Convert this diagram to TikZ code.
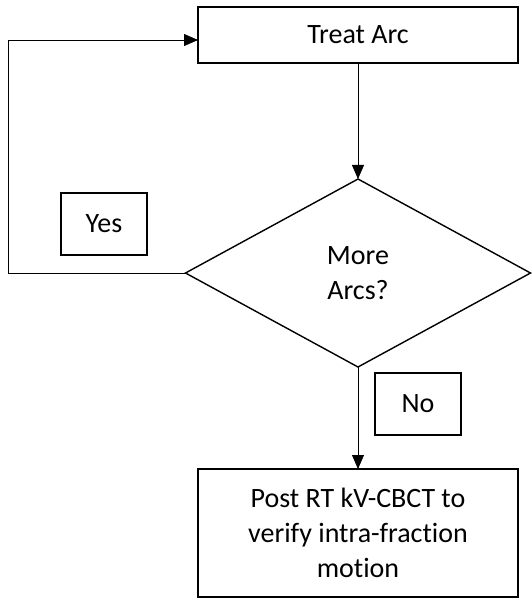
\documentclass[tikz,border=0pt]{standalone}
\usepackage{fontspec}
\setmainfont{Carlito}[Ligatures=CommonOff]
\usetikzlibrary{positioning,arrows.meta,shapes.geometric}

\begin{document}
\begin{tikzpicture}[x=1pt,y=-1pt,every node/.style={font=\fontsize{28}{35}\selectfont,align=center},
                    box/.style={draw,line width=1.8pt,minimum width=320pt,inner sep=0pt,outer sep=0pt},
                    tag/.style={draw,line width=1.2pt,minimum width=86pt,minimum height=62pt,inner sep=0pt},
                    decision/.style={draw,diamond,line width=1.4pt,minimum width=345pt,minimum height=188pt,inner sep=0pt,outer sep=0pt},
                    arrow/.style={-{Triangle[length=14pt,width=12pt]},line width=0.8pt}]
  \useasboundingbox (0,0) rectangle (531,600);
  \node[box,minimum height=56pt] (arc) at (358,35) {Treat Arc};
  \node[decision,below=116pt of arc] (more) {More\\Arcs?};
  \node[box,minimum height=128pt,below=102pt of more] (cbct) {Post RT kV-CBCT to\\verify intra-fraction\\motion};
  \node[tag] (yes) at (104,224) {Yes};
  \node[tag] (no) at (418,404) {No};
  \coordinate (loop) at (8,273);
  \draw[arrow] (arc) -- (more);
  \draw[arrow] (more) -- (cbct);
  \draw[arrow] (more.west) -- (loop) |- ([yshift=-5pt]arc.west);
\end{tikzpicture}
\end{document}
